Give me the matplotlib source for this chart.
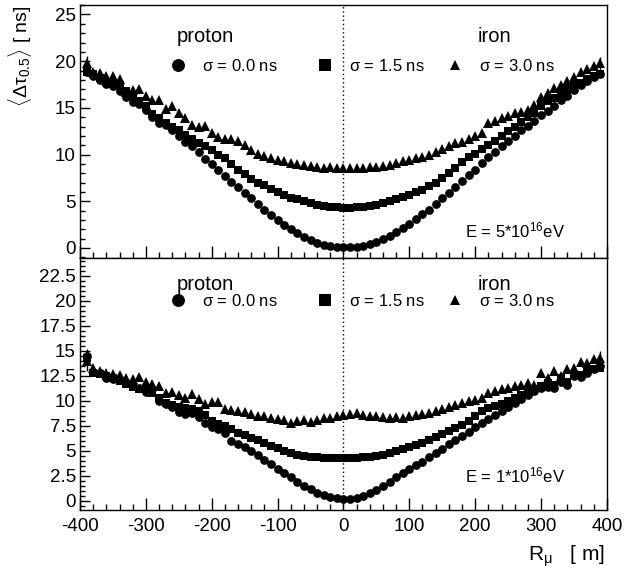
import numpy as np
import matplotlib
matplotlib.use("Agg")
import matplotlib.pyplot as plt
from matplotlib.ticker import MultipleLocator, FuncFormatter
from matplotlib.lines import Line2D
from matplotlib.legend import Legend

plt.rcParams['font.family'] = ['Liberation Sans', 'DejaVu Sans']
plt.rcParams['mathtext.fontset'] = 'custom'
plt.rcParams['mathtext.rm'] = 'Liberation Sans'
plt.rcParams['mathtext.it'] = 'Liberation Sans:italic'
plt.rcParams['mathtext.bf'] = 'Liberation Sans:bold'

# ---------------- data ----------------
R = np.arange(-390, 391, 10)  # core distance [m]

# E = 5*10^16 eV
top_s00 = [18.8, 18.4, 18.0, 17.6, 17.3, 16.8, 16.2, 15.6, 15.4, 14.8, 14.0, 13.4, 13.2, 12.6, 12.0,
           11.3, 10.9, 10.3, 9.5, 9.0, 8.3, 7.7, 7.1, 6.5, 5.9, 5.3, 4.7, 4.1, 3.5, 3.0, 2.5, 2.0,
           1.6, 1.2, 0.85, 0.55, 0.35, 0.2, 0.12, 0.1,
           0.1, 0.15, 0.25, 0.4, 0.65, 0.95, 1.3, 1.7, 2.1, 2.6, 3.1, 3.6, 4.1, 4.7, 5.3, 5.9, 6.5,
           7.2, 7.8, 8.4, 9.1, 9.7, 10.3, 10.9, 11.5, 12.0, 12.6, 13.1, 13.6, 14.2, 14.7, 15.2, 15.8,
           16.3, 16.9, 17.4, 17.9, 18.3, 18.6]
top_s15 = [18.8, 18.6, 18.2, 17.8, 17.6, 17.5, 16.8, 16.3, 15.7, 15.2, 14.3, 13.9, 13.4, 13.0, 12.6,
           12.1, 11.7, 11.2, 10.9, 10.5, 10.0, 9.6, 9.0, 8.4, 7.9, 7.4, 7.0, 6.7, 6.3, 6.0, 5.7, 5.4,
           5.2, 5.0, 4.8, 4.65, 4.5, 4.4, 4.35, 4.3,
           4.3, 4.35, 4.4, 4.5, 4.65, 4.8, 5.0, 5.2, 5.45, 5.7, 5.95, 6.25, 6.6, 7.0, 7.5, 8.0, 8.6,
           9.2, 9.7, 10.1, 10.6, 11.0, 11.5, 12.0, 12.5, 13.0, 13.5, 14.0, 14.5, 15.2, 15.7, 16.1,
           16.5, 16.9, 17.3, 17.7, 18.1, 18.4, 18.6]
top_s30 = [19.8, 18.8, 18.7, 18.4, 18.4, 18.1, 16.7, 16.9, 17.0, 16.3, 15.8, 15.8, 14.9, 15.2, 14.4,
           13.9, 13.2, 12.9, 13.1, 12.3, 11.9, 11.7, 11.7, 11.5, 11.0, 10.5, 10.1, 9.8, 9.6, 9.4,
           9.3, 9.1, 9.0, 8.9, 8.8, 8.7, 8.6, 8.7, 8.6, 8.6,
           8.6, 8.6, 8.6, 8.7, 8.7, 8.8, 8.9, 9.1, 9.3, 9.4, 9.6, 9.7, 10.0, 10.3, 10.6, 10.9, 11.2,
           11.4, 11.7, 12.0, 12.3, 13.4, 13.6, 13.9, 14.1, 14.4, 14.6, 14.8, 15.3, 16.2, 16.6, 17.1,
           17.5, 17.9, 18.3, 18.8, 19.2, 19.5, 19.8]

# E = 1*10^16 eV
bot_s00 = [14.5, 12.9, 12.8, 12.3, 12.2, 12.1, 11.8, 11.5, 11.3, 10.9, 11.2, 10.0, 9.7, 9.4, 8.9,
           8.7, 8.8, 8.4, 7.8, 7.4, 7.2, 6.8, 6.0, 5.7, 5.4, 5.0, 4.6, 4.1, 3.7, 3.2, 2.8, 2.4, 1.9,
           1.5, 1.2, 0.8, 0.55, 0.35, 0.25, 0.2,
           0.2, 0.3, 0.5, 0.75, 1.1, 1.5, 1.9, 2.4, 2.8, 3.2, 3.6, 3.9, 4.4, 4.8, 5.2, 5.7, 6.1, 6.5,
           6.9, 7.4, 7.8, 8.2, 8.6, 9.0, 9.4, 9.8, 10.2, 10.6, 11.0, 11.3, 11.4, 11.3, 11.9, 11.6,
           12.5, 12.4, 12.8, 13.2, 13.5]
bot_s15 = [14.3, 12.8, 12.7, 12.5, 12.3, 12.0, 11.7, 11.4, 11.2, 11.3, 10.8, 10.3, 9.8, 9.6, 9.4,
           9.3, 9.2, 9.0, 8.6, 8.0, 7.7, 7.5, 7.2, 6.8, 6.6, 6.3, 6.1, 5.8, 5.5, 5.3, 5.0, 4.8, 4.6,
           4.5, 4.4, 4.35, 4.3, 4.3, 4.3, 4.3,
           4.3, 4.3, 4.35, 4.4, 4.5, 4.6, 4.8, 5.0, 5.2, 5.4, 5.6, 5.8, 6.1, 6.4, 6.7, 7.0, 7.3, 7.6,
           8.0, 8.5, 9.0, 9.3, 9.5, 9.7, 10.0, 10.3, 10.6, 10.9, 11.2, 11.5, 11.8, 11.6, 12.3, 11.9,
           12.7, 12.6, 13.0, 13.2, 13.3]
bot_s30 = [14.0, 13.3, 13.0, 12.8, 12.7, 12.6, 12.3, 12.2, 12.4, 11.9, 11.7, 11.5, 10.8, 10.9, 10.6,
           10.3, 10.7, 10.2, 9.7, 9.9, 9.9, 9.2, 9.1, 9.0, 8.9, 8.7, 8.5, 8.5, 8.3, 8.2, 8.1, 7.8,
           8.0, 8.1, 7.9, 8.1, 8.3, 8.3, 8.5, 8.6,
           8.7, 8.8, 8.6, 8.5, 8.5, 8.4, 8.3, 8.4, 8.3, 8.5, 8.6, 8.7, 8.8, 9.0, 9.2, 9.4, 9.6, 9.8,
           10.0, 10.1, 10.3, 10.8, 11.0, 11.2, 11.3, 11.5, 11.6, 11.8, 11.6, 12.8, 12.3, 13.0, 12.5,
           13.2, 13.3, 13.9, 13.8, 14.2, 14.3]

# statistical errors of the outermost points (first, last)
top_s30_err_ends = [0.8, 0.7]
bot_s00_err_ends = [0.7, 0.4]
bot_s30_err_ends = [1.0, 0.7]

legend_labels = [r'$\mathrm{\sigma}$ = 0.0 ns', r'$\mathrm{\sigma}$ = 1.5 ns', r'$\mathrm{\sigma}$ = 3.0 ns']
energy_labels = [r'E = 5*10$^{16}$eV', r'E = 1*10$^{16}$eV']
xticks = [-400, -300, -200, -100, 0, 100, 200, 300, 400]

# ---------------- figure ----------------
fig = plt.figure(figsize=(6.25, 5.72), dpi=100)
ax1 = fig.add_axes([0.128, 0.549, 0.843, 0.442])
ax2 = fig.add_axes([0.128, 0.1084, 0.843, 0.4406])

markers = ['o', 's', '^']
msizes = [6.3, 6.0, 6.6]
leg_msizes = [9.3, 8.5, 7.8]
leg_anchor_x = [0.170, 0.449, 0.696]
gfmt = FuncFormatter(lambda v, p: f'{v:g}')


def draw(ax, series, errs, ylim, ymaj, ymin, elabel, leg_y, txt_y, e_y):
    for s, m, ms, lab in zip(series, markers, msizes, legend_labels):
        ax.plot(R, s, linestyle='none', marker=m, ms=ms, color='black',
                markeredgewidth=0, label=lab)
    for idx, e in errs.items():
        ax.errorbar([R[0], R[-1]], [series[idx][0], series[idx][-1]], yerr=e,
                    fmt='none', ecolor='black', elinewidth=1, capsize=0)
    ax.axvline(0, color='black', linestyle=(0, (1, 2)), linewidth=1)
    ax.set_xlim(-400, 400)
    ax.set_ylim(*ylim)
    ax.xaxis.set_major_locator(MultipleLocator(100))
    ax.xaxis.set_minor_locator(MultipleLocator(20))
    ax.yaxis.set_major_locator(MultipleLocator(ymaj))
    ax.yaxis.set_minor_locator(MultipleLocator(ymin))
    ax.yaxis.set_major_formatter(gfmt)
    ax.tick_params(which='both', direction='in', top=False, right=False,
                   labelsize=13.5, width=1)
    ax.tick_params(axis='x', which='major', length=9)
    ax.tick_params(axis='x', which='minor', length=4.5)
    ax.tick_params(axis='y', which='major', length=7, pad=3)
    ax.tick_params(axis='y', which='minor', length=3.5)
    for sp in ax.spines.values():
        sp.set_linewidth(1)
    ax.text(0.237, txt_y, 'proton', transform=ax.transAxes, ha='center', va='center', fontsize=14.5)
    ax.text(0.787, txt_y, 'iron', transform=ax.transAxes, ha='center', va='center', fontsize=14.5)
    ax.text(0.92, e_y, elabel, transform=ax.transAxes, ha='right', va='center', fontsize=12)
    for m, lms, lab, lx in zip(markers, leg_msizes, legend_labels, leg_anchor_x):
        h = Line2D([], [], linestyle='none', marker=m, ms=lms, color='black', markeredgewidth=0)
        lg = Legend(ax, [h], [lab], loc='center left', bbox_to_anchor=(lx, leg_y),
                    frameon=False, fontsize=12, handlelength=1.0, handletextpad=0.93,
                    borderpad=0, borderaxespad=0)
        ax.add_artist(lg)


draw(ax1, [top_s00, top_s15, top_s30], {2: top_s30_err_ends},
     (-1.07, 26.0), 5, 1, energy_labels[0], 0.759, 0.875, 0.11)
draw(ax2, [bot_s00, bot_s15, bot_s30], {0: bot_s00_err_ends, 2: bot_s30_err_ends},
     (-0.93, 24.27), 2.5, 0.5, energy_labels[1], 0.830, 0.895, 0.139)

ax1.set_xticks(xticks)
ax1.tick_params(axis='x', labelbottom=False)
ax2.set_xticks(xticks)
ax2.set_xticklabels([str(v) for v in xticks])
ax2.tick_params(axis='x', pad=6)

fig.text(0.032, 0.991, r'$\langle\Delta\mathrm{\tau}_{0.5}\rangle$ [ ns]', rotation=90,
         ha='center', va='top', fontsize=14)
fig.text(0.968, 0.027, r'R$_{\mathrm{\mu}}$   [ m]', ha='right', va='center', fontsize=15)

fig.savefig('out.png', dpi=100)
